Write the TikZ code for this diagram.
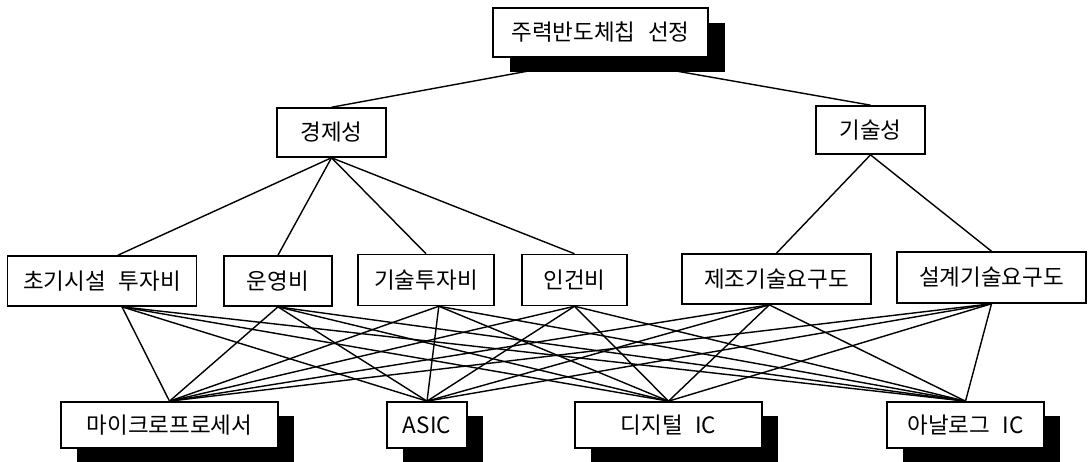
\documentclass[tikz,border=0pt]{standalone}
\usepackage{fontspec}
\newfontfamily\korfont[WordSpace=2.5]{Noto Sans CJK KR}
\usepackage{tikz}
\usetikzlibrary{shadows,backgrounds}

\begin{document}
\begin{tikzpicture}[x=0.025cm,y=-0.025cm,
    box/.style={draw,fill=white,line width=1.2pt,inner sep=0pt,
      font=\korfont\fontsize{16}{19}\selectfont},
    topbox/.style={box,drop shadow={shadow xshift=0.42cm,shadow yshift=-0.37cm,fill=black,opacity=1}},
    altbox/.style={box,minimum height=1.15cm,
      drop shadow={shadow xshift=0.4cm,shadow yshift=-0.35cm,fill=black,opacity=1}},
    link/.style={line width=1pt}]
  \useasboundingbox (0,0) rectangle (1089,461);
  % goal
  \node[topbox,minimum width=5.38cm,minimum height=1.22cm] (root) at (600.5,32.5) {주력반도체칩 선정};
  % criteria
  \node[box,minimum width=2.72cm,minimum height=1.22cm] (econ) at (331.5,132.5) {경제성};
  \node[box,minimum width=2.72cm,minimum height=1.2cm] (tech) at (870.5,130) {기술성};
  % sub-criteria
  \node[box,minimum width=4.72cm,minimum height=1.25cm] (init) at (102,281) {초기시설 투자비};
  \node[box,minimum width=2.7cm,minimum height=1.25cm] (oper) at (278,281) {운영비};
  \node[box,minimum width=3.4cm,minimum height=1.27cm] (techinv) at (426,280) {기술투자비};
  \node[box,minimum width=2.62cm,minimum height=1.27cm] (labor) at (574.5,280) {인건비};
  \node[box,minimum width=4.72cm,minimum height=1.25cm] (manu) at (776.5,279) {제조기술요구도};
  \node[box,minimum width=4.72cm,minimum height=1.27cm] (design) at (991.5,277.5) {설계기술요구도};
  % alternatives
  \node[altbox,minimum width=5.42cm] (micro) at (169.5,425) {마이크로프로세서};
  \node[altbox,minimum width=2cm] (asic) at (427,425) {ASIC};
  \node[altbox,minimum width=4.68cm] (digital) at (668.5,425) {디지털 IC};
  \node[altbox,minimum width=3.92cm] (analog) at (965.5,425) {아날로그 IC};

  \coordinate (initN) at ([xshift=0.4cm]init.north);
  \coordinate (initS) at ([xshift=0.5cm]init.south);
  \coordinate (techinvS) at ([xshift=0.32cm]techinv.south);
  \coordinate (manuS) at ([xshift=-0.18cm]manu.south);

  \begin{scope}[on background layer]
    \draw[link] (root.south) -- (econ.north);
    \draw[link] (root.south) -- (tech.north);
    \foreach \c in {initN,oper.north,techinv.north,labor.north}
      \draw[link] (econ.south) -- (\c);
    \foreach \c in {manu.north,design.north}
      \draw[link] (tech.south) -- (\c);
    \foreach \c in {initS,oper.south,techinvS,labor.south,manuS,design.south}
      \foreach \d in {micro,asic,digital,analog}
        \draw[link] (\c) -- (\d.north);
  \end{scope}
\end{tikzpicture}
\end{document}
